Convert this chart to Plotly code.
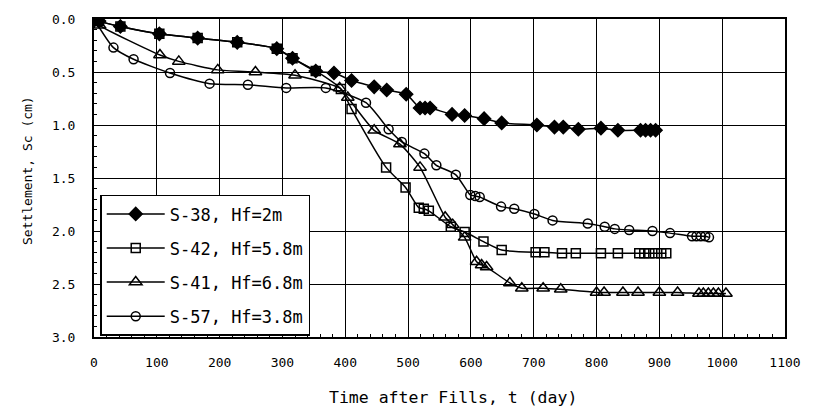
import plotly.graph_objects as go

# Settlement records (time after fills in days, settlement in cm)
t_s38 = [0, 8, 42, 104, 165, 228, 291, 316, 353, 382, 410, 446, 466, 497, 519, 527, 535,
         570, 590, 621, 649, 705, 733, 747, 771, 807, 834, 870, 878, 886, 894]
s_s38 = [0, 0.02, 0.07, 0.14, 0.18, 0.22, 0.28, 0.37, 0.49, 0.51, 0.58, 0.64, 0.67, 0.71,
         0.84, 0.84, 0.84, 0.90, 0.91, 0.94, 0.98, 1.00, 1.02, 1.02, 1.04, 1.03, 1.05,
         1.05, 1.05, 1.05, 1.05]

t_s42 = [0, 8, 42, 104, 165, 228, 291, 316, 353, 393, 410, 465, 496, 517, 525, 533, 568,
         590, 620, 649, 703, 717, 745, 767, 807, 834, 868, 876, 884, 893, 903, 911]
s_s42 = [0, 0.02, 0.07, 0.14, 0.18, 0.22, 0.28, 0.37, 0.49, 0.66, 0.85, 1.40, 1.59, 1.78,
         1.79, 1.81, 1.96, 2.01, 2.10, 2.18, 2.20, 2.20, 2.21, 2.21, 2.21, 2.21, 2.21,
         2.21, 2.21, 2.21, 2.21, 2.21]

t_s41 = [0, 9, 105, 135, 197, 257, 320, 391, 404, 446, 487, 519, 559, 571, 590, 609, 617,
         625, 662, 681, 715, 743, 800, 812, 842, 866, 900, 929, 963, 970, 978, 986, 994, 1006]
s_s41 = [0, 0.06, 0.34, 0.40, 0.48, 0.50, 0.53, 0.65, 0.74, 1.05, 1.18, 1.40, 1.87, 1.94,
         2.06, 2.29, 2.32, 2.34, 2.49, 2.54, 2.54, 2.55, 2.58, 2.58, 2.58, 2.58, 2.58,
         2.58, 2.59, 2.59, 2.59, 2.59, 2.59, 2.59]

t_s57 = [0, 31, 63, 121, 184, 245, 306, 369, 433, 469, 490, 526, 545, 576, 599, 607, 614,
         648, 669, 701, 730, 786, 813, 829, 852, 889, 917, 952, 959, 966, 973, 979]
s_s57 = [0, 0.27, 0.38, 0.51, 0.61, 0.62, 0.65, 0.65, 0.79, 1.04, 1.16, 1.27, 1.38, 1.47,
         1.66, 1.67, 1.68, 1.77, 1.79, 1.84, 1.90, 1.93, 1.96, 1.98, 1.99, 2.00, 2.02,
         2.05, 2.05, 2.05, 2.05, 2.06]

series_names = ["S-38, Hf=2m", "S-42, Hf=5.8m", "S-41, Hf=6.8m", "S-57, Hf=3.8m"]

MONO = "DejaVu Sans Mono"

fig = go.Figure()

styles = [
    (t_s38, s_s38, "diamond", 10),
    (t_s42, s_s42, "square-open", 9),
    (t_s41, s_s41, "triangle-up-open", 11),
    (t_s57, s_s57, "circle-open", 9),
]

for i, (name, (tx, sy, sym, size)) in enumerate(zip(series_names, styles)):
    fig.add_trace(go.Scatter(
        x=tx, y=sy, name=name, mode="lines+markers",
        line=dict(color="black", width=1.5, shape="spline", smoothing=0.6),
        marker=dict(symbol=sym, size=size, color="black",
                    line=dict(color="black", width=1.5)),
        legendgroup=f"g{i}",
    ))

fig.update_layout(
    width=813, height=407,
    margin=dict(l=94, r=18, t=18, b=70),
    paper_bgcolor="white", plot_bgcolor="white",
    font=dict(family=MONO, color="black"),
    showlegend=True,
    legend=dict(
        x=0.009, y=0.447, xanchor="left", yanchor="top",
        bgcolor="white", bordercolor="black", borderwidth=1.5,
        font=dict(family=MONO, size=17, color="black"),
        tracegroupgap=9, itemwidth=58,
        entrywidth=170, entrywidthmode="pixels",
    ),
    annotations=[
        dict(text="Time after Fills, t (day)", xref="paper", yref="paper",
             x=0.519, y=-0.19, xanchor="center", yanchor="middle", showarrow=False,
             font=dict(family=MONO, size=16.5, color="black")),
        dict(text="Settlement, Sc (cm)", xref="paper", yref="paper",
             x=-0.097, y=0.525, xanchor="center", yanchor="middle", showarrow=False,
             textangle=-90,
             font=dict(family=MONO, size=13, color="black")),
    ],
)

fig.update_xaxes(
    range=[0, 1100], tickmode="linear", tick0=0, dtick=100,
    showgrid=True, gridcolor="black", gridwidth=1,
    showline=True, linecolor="black", linewidth=2, mirror=True,
    ticks="inside", ticklen=5, tickcolor="black",
    minor=dict(dtick=20, ticks="inside", ticklen=3, tickcolor="black"),
    tickfont=dict(family=MONO, size=13, color="black"),
    ticklabelstandoff=12,
    zeroline=False,
)

fig.update_yaxes(
    range=[3.0, 0.0], tickmode="linear", tick0=0, dtick=0.5, tickformat=".1f",
    showgrid=True, gridcolor="black", gridwidth=1,
    showline=True, linecolor="black", linewidth=2, mirror=True,
    ticks="inside", ticklen=5, tickcolor="black",
    minor=dict(dtick=0.1, ticks="inside", ticklen=3, tickcolor="black"),
    tickfont=dict(family=MONO, size=13, color="black"),
    ticklabelstandoff=14,
    zeroline=False,
)

fig.write_html("out.html")
